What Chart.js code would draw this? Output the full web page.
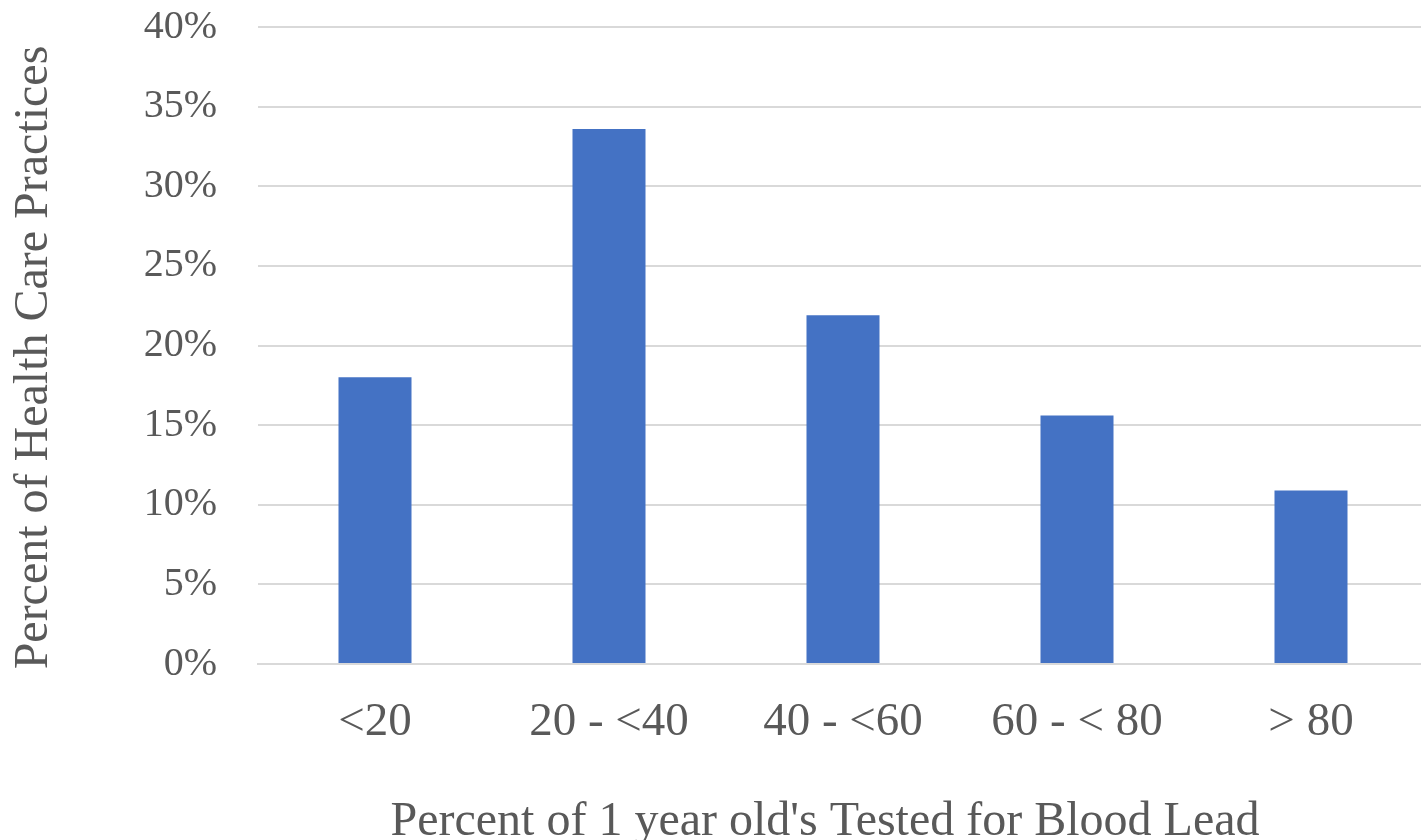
<!DOCTYPE html>
<html>
<head>
<meta charset="utf-8">
<script src="https://cdn.jsdelivr.net/npm/chart.js@4"></script>
<style>
  html, body { margin: 0; padding: 0; background: #fff; overflow: hidden; }
  #wrap { width: 1428px; height: 851px; }
</style>
</head>
<body>
<div id="wrap"><canvas id="leadChart"></canvas></div>
<script>
// categories and values (percent of practices)
const categories = ["<20", "20 - <40", "40 - <60", "60 - < 80", "> 80"];
const practicePct = [18.0, 33.6, 21.9, 15.6, 10.9];
const yTicks = [0, 5, 10, 15, 20, 25, 30, 35, 40];

const textGray = "#595959";
const gridGray = "#D9D9D9";
const serif = "'Liberation Serif', 'Times New Roman', serif";

new Chart(document.getElementById("leadChart"), {
  type: "bar",
  data: {
    labels: categories,
    datasets: [{
      data: practicePct,
      backgroundColor: "#4472C4",
      barPercentage: 0.312,
      categoryPercentage: 1,
    }],
  },
  options: {
    responsive: true,
    maintainAspectRatio: false,
    animation: false,
    layout: { padding: 0 },
    plugins: { legend: { display: false }, tooltip: { enabled: false } },
    scales: {
      x: {
        grid: { display: false, drawTicks: false },
        border: { display: true, color: gridGray, width: 2 },
        ticks: { color: textGray, font: { family: serif, size: 47 }, padding: 30 },
        title: {
          display: true,
          // trailing spaces nudge the centred title a bit to the left
          text: "Percent of 1 year old's Tested for Blood Lead\u00A0\u00A0\u00A0",
          color: textGray,
          font: { family: serif, size: 48 },
          padding: { top: 40, bottom: 0 },
        },
        afterFit: (s) => { s.height = 187; },
      },
      y: {
        min: 0,
        max: 40,
        afterBuildTicks: (s) => { s.ticks = yTicks.map(v => ({ value: v })); },
        grid: { color: gridGray, lineWidth: 2, drawTicks: false },
        border: { display: false },
        ticks: {
          color: textGray,
          font: { family: serif, size: 40 },
          padding: 41,
          callback: (v) => v + "%",
        },
        title: {
          display: true,
          text: "Percent of Health Care Practices\u2002",
          color: textGray,
          font: { family: serif, size: 48 },
          padding: { top: 6, bottom: 0 },
        },
        afterFit: (s) => {
          s.width = 258;
          // tick padding would otherwise push the plot top down
          s.paddingTop = 27;
          s.paddingBottom = 0;
        },
      },
    },
  },
});
</script>
</body>
</html>
